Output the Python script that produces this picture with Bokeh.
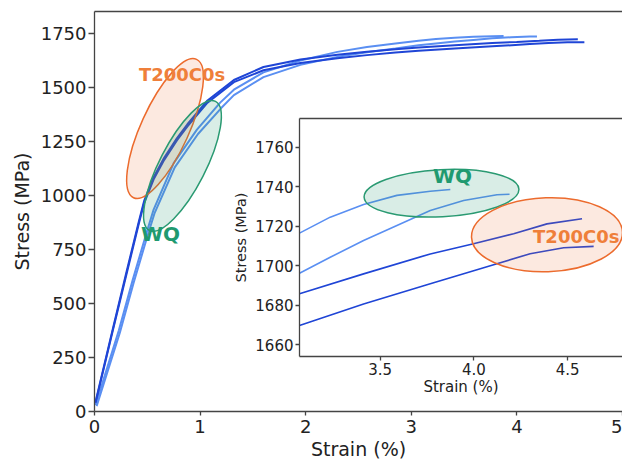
import numpy as np
from bokeh.plotting import figure
from bokeh.models import Range1d, LinearAxis, FixedTicker, PrintfTickFormatter
from bokeh.layouts import column
from bokeh.core.properties import value
from bokeh.embed import file_html
from bokeh.resources import INLINE

# ---------------- data ----------------
# WQ specimens (lighter blue)
wq1_strain = [0.01, 0.23, 0.36, 0.49, 0.56, 0.75, 0.97, 1.19, 1.32, 1.6, 1.95, 2.3, 2.58, 2.85,
              3.069, 3.233, 3.411, 3.589, 3.767, 3.874]
wq1_stress = [30, 375, 606, 823, 935, 1150, 1305, 1430, 1490, 1570, 1625, 1665, 1688, 1704,
              1716.5, 1724.6, 1731.0, 1735.6, 1737.7, 1738.6]
wq2_strain = [0.02, 0.24, 0.37, 0.50, 0.57, 0.76, 0.98, 1.2, 1.32, 1.6, 1.95, 2.3, 2.58, 2.85,
              3.069, 3.233, 3.411, 3.589, 3.767, 3.945, 4.123, 4.19]
wq2_stress = [25, 365, 595, 810, 920, 1130, 1285, 1405, 1465, 1548, 1605, 1642, 1663, 1681,
              1696.2, 1704.3, 1712.8, 1720.4, 1728.0, 1733.0, 1735.9, 1736.2]
# T200C0s specimens (darker blue)
t1_strain = [0.01, 0.17, 0.30, 0.42, 0.47, 0.56, 0.66, 0.78, 0.88, 1.07, 1.32, 1.6, 1.95, 2.3,
             2.58, 2.85, 3.069, 3.411, 3.767, 3.998, 4.212, 4.39, 4.577]
t1_stress = [45, 375, 640, 880, 975, 1085, 1175, 1265, 1330, 1440, 1535, 1595, 1630, 1652,
             1666, 1677, 1685.8, 1695.9, 1706.0, 1711.1, 1716.2, 1721.2, 1723.8]
t2_strain = [0.01, 0.17, 0.30, 0.42, 0.47, 0.56, 0.66, 0.78, 0.88, 1.07, 1.32, 1.6, 1.95, 2.3,
             2.58, 2.85, 3.069, 3.411, 3.767, 4.123, 4.30, 4.479, 4.639]
t2_stress = [40, 368, 630, 870, 965, 1075, 1165, 1255, 1320, 1430, 1525, 1580, 1614, 1636,
             1650, 1662, 1669.8, 1680.7, 1690.9, 1701.0, 1706.1, 1709.1, 1709.8]

main_x_ticks = [0, 1, 2, 3, 4, 5]
main_y_ticks = [0, 250, 500, 750, 1000, 1250, 1500, 1750]
inset_x_ticks = [3.5, 4.0, 4.5]
inset_y_ticks = [1660, 1680, 1700, 1720, 1740, 1760]

# ---------------- styles ----------------
LIGHT = "#5a8ff2"
DARK = "#1f45d6"
ORANGE = "#ec6b2d"
ORANGE_TXT = "#ef7f3a"
GREEN = "#2a9a72"
GREEN_TXT = "#1f9a70"
AXIS = "#444444"
FONT = "DejaVu Sans"

curves = [(wq1_strain, wq1_stress, LIGHT), (wq2_strain, wq2_stress, LIGHT),
          (t1_strain, t1_stress, DARK), (t2_strain, t2_stress, DARK)]


def style_axis(ax, font_px, label_px, tick_out, standoff, label_standoff):
    ax.axis_line_color = AXIS
    ax.axis_line_width = 1.3
    ax.major_tick_line_color = AXIS
    ax.major_tick_line_width = 1.3
    ax.major_tick_in = 0
    ax.major_tick_out = tick_out
    ax.minor_tick_line_color = None
    ax.major_label_text_font = FONT
    ax.major_label_text_font_size = f"{font_px}px"
    ax.major_label_text_color = "#222222"
    ax.major_label_standoff = standoff
    ax.axis_label_text_font = FONT
    ax.axis_label_text_font_size = f"{label_px}px"
    ax.axis_label_text_font_style = "normal"
    ax.axis_label_text_color = "#222222"
    ax.axis_label_standoff = label_standoff


def top_spine(fig):
    ax = LinearAxis(ticker=FixedTicker(ticks=[]), major_label_text_font_size="0px",
                    major_tick_out=0, major_tick_in=0, minor_tick_out=0, minor_tick_in=0,
                    major_label_standoff=0, axis_line_color=AXIS, axis_line_width=1.3)
    fig.add_layout(ax, "above")


# ---------------- main figure ----------------
p = figure(width=622, height=462, x_range=Range1d(0, 5), y_range=Range1d(0, 1852),
           output_backend="svg", toolbar_location=None,
           min_border_left=94, min_border_right=0, min_border_top=11, min_border_bottom=51)
p.outline_line_color = None
p.grid.visible = False
p.background_fill_color = "white"
p.xaxis.ticker = FixedTicker(ticks=main_x_ticks)
p.yaxis.ticker = FixedTicker(ticks=main_y_ticks)
p.xaxis.axis_label = "Strain (%)"
p.yaxis.axis_label = "Stress (MPa)"
style_axis(p.xaxis[0], 18, 19, 4, 4, 2)
style_axis(p.yaxis[0], 18, 19, 6, 2, 5)
top_spine(p)

for xs, ys, c in curves:
    p.line(xs, ys, line_color=c, line_width=2.0)

p.ellipse(x=[0.668], y=[1310], width=152, height=48, angle=np.radians(65.5),
          width_units="screen", height_units="screen",
          fill_color=ORANGE, fill_alpha=0.15, line_color=ORANGE, line_width=1.5)
p.ellipse(x=[0.833], y=[1137], width=145, height=46, angle=np.radians(62.9),
          width_units="screen", height_units="screen",
          fill_color=GREEN, fill_alpha=0.18, line_color=GREEN, line_width=1.5)
p.text(x=[0.829], y=[1562], text=["T200C0s"], text_align="center", text_baseline="middle",
       text_font=value(FONT), text_font_style="bold", text_font_size="18px",
       text_color=ORANGE_TXT)
p.text(x=[0.625], y=[824], text=["WQ"], text_align="center", text_baseline="middle",
       text_font=value(FONT), text_font_style="bold", text_font_size="20px",
       text_color=GREEN_TXT)

# ---------------- inset figure ----------------
q = figure(width=417, height=286, x_range=Range1d(3.069, 4.793), y_range=Range1d(1654.1, 1774.5),
           output_backend="svg", toolbar_location=None,
           min_border_left=90, min_border_right=0, min_border_top=6, min_border_bottom=42)
q.outline_line_color = None
q.grid.visible = False
q.background_fill_color = "white"
q.border_fill_color = None
q.xaxis.ticker = FixedTicker(ticks=inset_x_ticks)
q.yaxis.ticker = FixedTicker(ticks=inset_y_ticks)
q.xaxis.formatter = PrintfTickFormatter(format="%.1f")
q.xaxis.axis_label = "Strain (%)"
q.yaxis.axis_label = "Stress (MPa)"
style_axis(q.xaxis[0], 15, 15, 4, 2, 0)
style_axis(q.yaxis[0], 15, 14.5, 4, 2, 3)
top_spine(q)

for xs, ys, c in curves:
    q.line(xs, ys, line_color=c, line_width=1.6)

q.ellipse(x=[3.827], y=[1736.7], width=155, height=47, angle=np.radians(3),
          width_units="screen", height_units="screen",
          fill_color=GREEN, fill_alpha=0.18, line_color=GREEN, line_width=1.5)
q.ellipse(x=[4.39], y=[1715.7], width=151, height=74, angle=np.radians(2),
          width_units="screen", height_units="screen",
          fill_color=ORANGE, fill_alpha=0.15, line_color=ORANGE, line_width=1.5)
q.text(x=[3.886], y=[1745.3], text=["WQ"], text_align="center", text_baseline="middle",
       text_font=value(FONT), text_font_style="bold", text_font_size="20px",
       text_color=GREEN_TXT)
q.text(x=[4.546], y=[1715.0], text=["T200C0s"], text_align="center", text_baseline="middle",
       text_font=value(FONT), text_font_style="bold", text_font_size="18px",
       text_color=ORANGE_TXT)

q.styles = {"position": "absolute", "left": "205px", "top": "112px", "z-index": "2"}

layout = column(p, q)
layout.styles = {"position": "relative"}

open("out.html", "w").write(file_html(layout, INLINE))
